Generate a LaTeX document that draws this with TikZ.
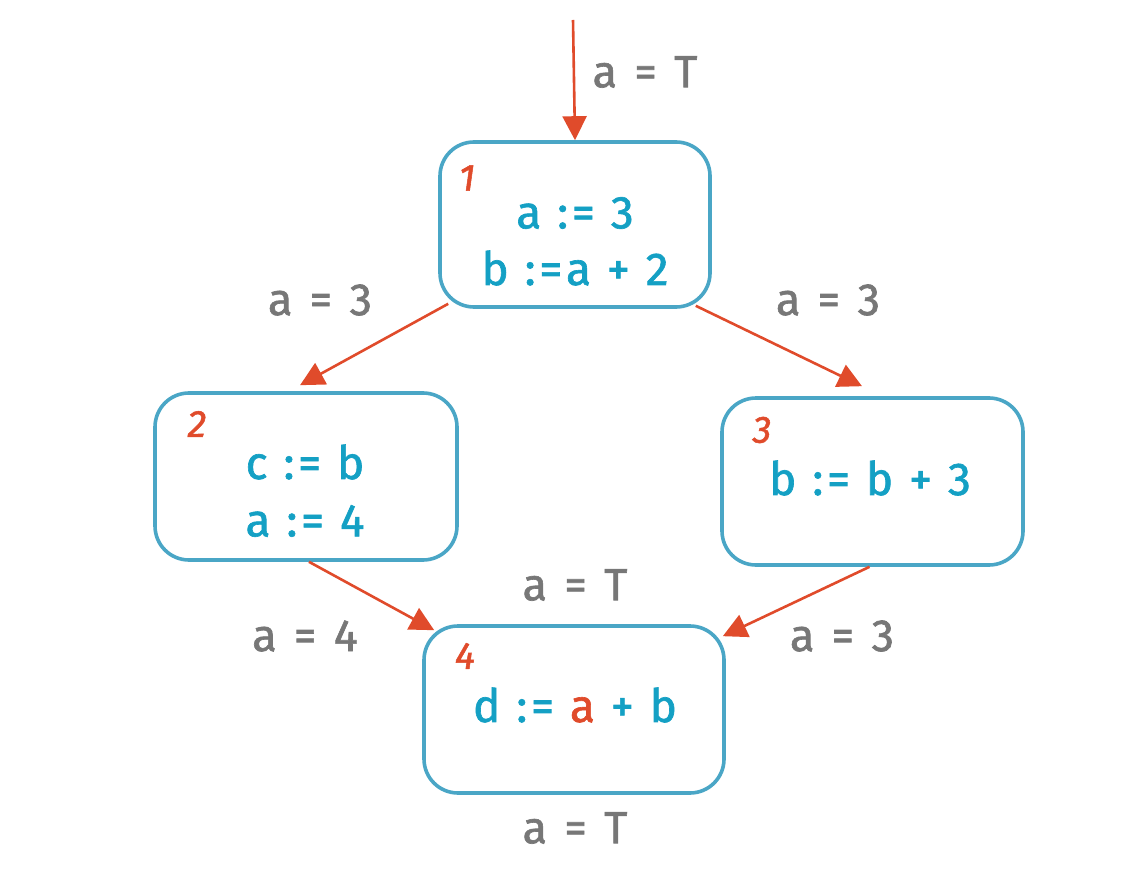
\documentclass[tikz,border=0pt]{standalone}
\usepackage{fontspec}
\setmainfont{Fira Sans}[LetterSpace=8, FakeBold=1.4]
\usetikzlibrary{arrows.meta}
\definecolor{boxblue}{HTML}{4AA6C6}
\definecolor{txtblue}{HTML}{14A0C4}
\definecolor{arrred}{HTML}{E04B2B}
\definecolor{lblgray}{HTML}{777777}
\tikzset{
  block/.style={draw=boxblue, line width=3.6pt, rounded corners=34pt, inner sep=0pt},
  code/.style={text=txtblue, font=\fontsize{46}{48}\selectfont, inner sep=0pt, anchor=center},
  num/.style={text=arrred, font=\fontsize{38}{40}\selectfont\itshape, inner sep=0pt},
  lbl/.style={text=lblgray, font=\fontsize{45}{47}\selectfont\addfontfeature{LetterSpace=12}, inner sep=0pt},
  flow/.style={draw=arrred, line width=2.6pt, -{Triangle[length=24pt,width=24pt]}},
}
\begin{document}
\begin{tikzpicture}[x=1pt,y=-1pt]
\useasboundingbox (0,0) rectangle (1142,882);
% boxes
\node[block, minimum width=270pt, minimum height=165pt] (b1) at (575,224.5) {};
\node[block, minimum width=302pt, minimum height=167pt] (b2) at (306,476.5) {};
\node[block, minimum width=301pt, minimum height=167pt] (b3) at (872.5,481.5) {};
\node[block, minimum width=300pt, minimum height=167pt] (b4) at (574,709.5) {};
% box texts
\node[num] (n1) at (467,178) {1};
\node[code] (t1a) at (575,213) {a := 3};
\node[code] (t1b) at (575,268) {b :=a + 2};
\node[num] (n2) at (197,424) {2};
\node[code] (t2a) at (305,462) {c := b};
\node[code] (t2b) at (305,521) {a := 4};
\node[num] (n3) at (762,430) {3};
\node[code] (t3a) at (870,478) {b := b + 3};
\node[num] (n4) at (465,656) {4};
\node[code] (t4a) at (575,705) {d := \textcolor{arrred}{a} + b};
% labels
\node[lbl] (l0) at (645,72) {a = T};
\node[lbl] (l12) at (320,300) {a = 3};
\node[lbl] (l13) at (828,300) {a = 3};
\node[lbl] (l24) at (305,636) {a = 4};
\node[lbl] (l34) at (842,636) {a = 3};
\node[lbl] (l4in) at (575,585) {a = T};
\node[lbl] (l4out) at (575,828) {a = T};
% connectors
\coordinate (entry) at (573,20);
\draw[flow] (entry) -- (b1.north);
\draw[flow] ([xshift=10pt,yshift=5pt]b1.south west) -- ([yshift=6pt]b2.94);
\draw[flow] ([xshift=-16pt,yshift=3pt]b1.south east) -- ([yshift=10pt]b3.97);
\draw[flow] (b2.272) -- ([xshift=12pt,yshift=-6pt]b4.north west);
\draw[flow] (b3.268) -- ([xshift=-3pt,yshift=-12pt]b4.north east);
\end{tikzpicture}
\end{document}
